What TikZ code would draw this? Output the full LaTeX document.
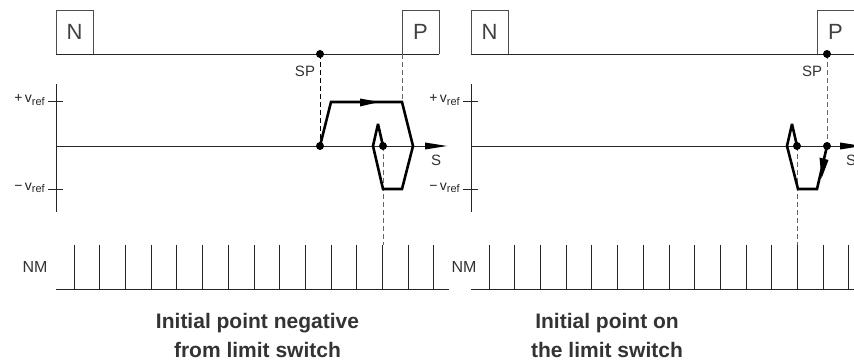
\documentclass[tikz,border=0pt]{standalone}
\usepackage{fontspec}
\setmainfont{Liberation Sans}
\usetikzlibrary{arrows.meta,decorations.markings}
\begin{document}
\begin{tikzpicture}[x=1pt,y=-1pt,
  thinline/.style={draw=black!85,line width=0.8pt},
  boxline/.style={draw=black!70,line width=0.8pt},
  dashline/.style={draw=black!60,line width=0.9pt,dash pattern=on 5pt off 3pt},
  dashdark/.style={draw=black,line width=0.9pt,dash pattern=on 5pt off 3pt},
  motion/.style={draw=black,line width=2.6pt,line join=miter,miter limit=4},
  dotmark/.style={circle,fill=black,inner sep=0pt,minimum size=8pt},
  lbl/.style={font=\fontsize{15}{15}\selectfont,text=black!80,inner sep=0pt},
  boxlbl/.style={font=\fontsize{22}{22}\selectfont,text=black!75,inner sep=0pt},
  caption/.style={font=\fontsize{21}{29}\selectfont\bfseries,text=black!80,align=center,inner sep=0pt},
  vref/.style={font=\fontsize{14}{14}\selectfont,text=black!85,inner sep=0pt,anchor=east}]
\useasboundingbox (0,0) rectangle (854,363);
\newcommand{\vsub}{v\raisebox{-2.5pt}{\fontsize{11}{11}\selectfont ref}}
% ================= LEFT PANEL =================
\draw[boxline] (56,54) -- (56,10) -- (93,10) -- (93,54);
\node[boxlbl] (nL) at (74.5,32) {N};
\draw[boxline] (402,54) -- (402,10) -- (439,10) -- (439,54);
\node[boxlbl] (pL) at (420.5,32) {P};
\draw[thinline] (56,54) -- (439,54);
\coordinate (spL) at (320,54);
\node[lbl] (spLt) at (305,71) {SP};
\draw[thinline] (56,84) -- (56,212);
\draw[thinline] (56,146) -- (428,146);
\fill[black] (425,142.5) -- (447,146) -- (425,149.5) -- cycle;
\node[lbl] (sL) at (436,160) {S};
\draw[thinline] (48,101) -- (63,101);
\draw[thinline] (48,189) -- (63,189);
\node[vref] (pvL) at (45,100) {+\,\vsub};
\node[vref] (mvL) at (45,188) {−\,\vsub};
\coordinate (a0L) at (320,146);
\coordinate (eL) at (383,146);
\draw[dashdark] (spL) -- (a0L);
\draw[dashline] (402,54) -- (402,102);
\draw[dashline] (eL) -- (383,245);
\draw[motion] (a0L) -- (331,102) -- (402,102) -- (413,146) -- (402,189) -- (383,189) -- (373,146) -- (378,124) -- (eL);
\fill[black] (360,98.5) -- (379,102) -- (360,106.5) -- cycle;
\node[dotmark] at (spL) {};
\node[dotmark] at (a0L) {};
\node[dotmark] at (eL) {};
\node[lbl,font=\fontsize{16}{16}\selectfont] (nmL) at (35,267) {NM};
\draw[thinline] (56,289) -- (449,289);
\foreach \k in {0,...,14} {\draw[thinline] ({74+25.7*\k},245) -- ({74+25.7*\k},289);}
\node[caption] (capL) at (257.5,335) {Initial point negative\\from limit switch};
% ================= RIGHT PANEL =================
\begin{scope}[xshift=415pt]
\draw[boxline] (56,54) -- (56,10) -- (93,10) -- (93,54);
\node[boxlbl] (nR) at (74.5,32) {N};
\draw[boxline] (402,54) -- (402,10) -- (439,10) -- (439,54);
\node[boxlbl] (pR) at (420.5,32) {P};
\draw[thinline] (56,54) -- (439,54);
\coordinate (spR) at (412,54);
\node[lbl] (spRt) at (397,71) {SP};
\draw[thinline] (56,84) -- (56,212);
\draw[thinline] (56,146) -- (428,146);
\fill[black] (425,142.5) -- (447,146) -- (425,149.5) -- cycle;
\node[lbl] (sR) at (436,160) {S};
\draw[thinline] (48,101) -- (63,101);
\draw[thinline] (48,189) -- (63,189);
\node[vref] (pvR) at (45,100) {+\,\vsub};
\node[vref] (mvR) at (45,188) {−\,\vsub};
\coordinate (a0R) at (412,146);
\coordinate (eR) at (382,146);
\draw[dashline] (spR) -- (a0R);
\draw[dashline] (eR) -- (382,245);
\draw[motion] (a0R) -- (402,189) -- (383,189) -- (372,146) -- (377,124) -- (eR);
\fill[black] (404.5,157.5) -- (406.5,178.5) -- (413.5,160) -- cycle;
\node[dotmark] at (spR) {};
\node[dotmark] at (a0R) {};
\node[dotmark] at (eR) {};
\node[lbl,font=\fontsize{16}{16}\selectfont] (nmR) at (49,267) {NM};
\draw[thinline] (56,289) -- (449,289);
\foreach \k in {0,...,14} {\draw[thinline] ({74+25.7*\k},245) -- ({74+25.7*\k},289);}
\node[caption] (capR) at (192,335) {Initial point on\\the limit switch};
\end{scope}
\end{tikzpicture}
\end{document}
